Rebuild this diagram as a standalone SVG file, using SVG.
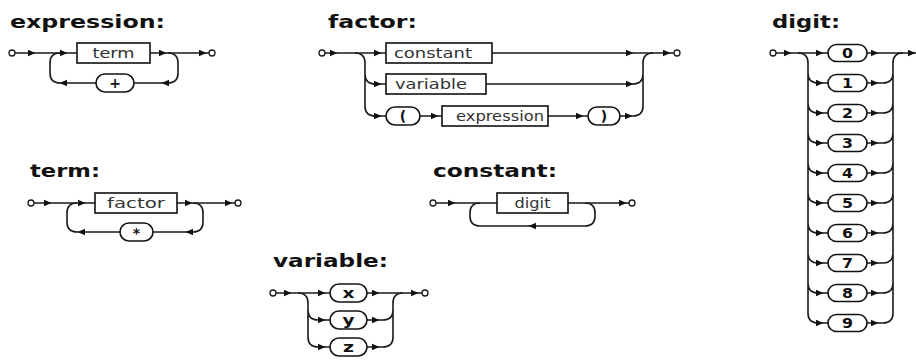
<svg xmlns="http://www.w3.org/2000/svg" xmlns:xlink="http://www.w3.org/1999/xlink" width="916" height="361" viewBox="0 0 916 361">
<style>
.ln{fill:none;stroke:#1a1a1a;stroke-width:1.6}
.bx{fill:#fff;stroke:#111;stroke-width:1.6}
.st{fill:#fff;stroke:#1a1a1a;stroke-width:1.3}
.lbl{font-family:"DejaVu Sans","Liberation Sans",sans-serif;font-size:13.5px;fill:#333;text-anchor:middle}
.tt{font-family:"DejaVu Sans","Liberation Sans",sans-serif;font-size:14px;font-weight:bold;fill:#111;text-anchor:middle}
.tl{font-family:"DejaVu Sans","Liberation Sans",sans-serif;font-size:18px;font-weight:bold;fill:#111}
</style>
<defs>
<path id="ar" d="M-4,-3.2 L3.5,0 L-4,3.2 Z" fill="#111"/>
<path id="al" d="M4,-3.2 L-3.5,0 L4,3.2 Z" fill="#111"/>
</defs>
<rect width="916" height="361" fill="#fff"/>

<g id="titles">
<text class="tl" x="10" y="28" textLength="155" lengthAdjust="spacingAndGlyphs">expression:</text>
<text class="tl" x="328" y="28" textLength="89" lengthAdjust="spacingAndGlyphs">factor:</text>
<text class="tl" x="772" y="28" textLength="68" lengthAdjust="spacingAndGlyphs">digit:</text>
<text class="tl" x="30" y="177" textLength="70" lengthAdjust="spacingAndGlyphs">term:</text>
<text class="tl" x="433" y="177" textLength="124" lengthAdjust="spacingAndGlyphs">constant:</text>
<text class="tl" x="273" y="267" textLength="115" lengthAdjust="spacingAndGlyphs">variable:</text>
</g>

<g id="connectors">
<!-- expression -->
<path class="ln" d="M15,53 H77 M150,53 H209"/>
<path class="ln" d="M168,53 Q178,53 178,63 V73 Q178,83 168,83 H134 M96,83 H60 Q50,83 50,73 V63 Q50,53 60,53"/>
<use href="#ar" x="32" y="53"/><use href="#ar" x="64" y="53"/><use href="#ar" x="163" y="53"/><use href="#ar" x="203" y="53"/>
<use href="#al" x="165" y="83"/><use href="#al" x="63" y="83"/>
<!-- term -->
<path class="ln" d="M34,203 H95 M177,203 H235"/>
<path class="ln" d="M193,203 Q203,203 203,213 V222 Q203,232 193,232 H153 M120,232 H77 Q67,232 67,222 V213 Q67,203 77,203"/>
<use href="#ar" x="48" y="203"/><use href="#ar" x="82" y="203"/><use href="#ar" x="189" y="203"/><use href="#ar" x="229" y="203"/>
<use href="#al" x="189" y="232"/><use href="#al" x="81" y="232"/>
<!-- constant -->
<path class="ln" d="M436,203 H497 M568,203 H629"/>
<path class="ln" d="M585,203 Q595,203 595,213 V216 Q595,226 585,226 H480 Q470,226 470,216 V213 Q470,203 480,203"/>
<use href="#ar" x="452" y="203"/><use href="#ar" x="623" y="203"/><use href="#al" x="532" y="226"/>
<!-- factor -->
<path class="ln" d="M325,53 H386 M492,53 H674"/>
<path class="ln" d="M355,53 Q365,53 365,63 V106 Q365,116 375,116 H386 M365,74 Q365,84 375,84 H386"/>
<path class="ln" d="M486,84 H633 Q643,84 643,74 M420,116 H442 M548,116 H588 M620,116 H633 Q643,116 643,106 V63 Q643,53 653,53"/>
<use href="#ar" x="334" y="53"/><use href="#ar" x="378" y="53"/><use href="#ar" x="630" y="53"/><use href="#ar" x="667" y="53"/>
<use href="#ar" x="378" y="84"/><use href="#ar" x="630" y="84"/>
<use href="#ar" x="378" y="116"/><use href="#ar" x="435" y="116"/><use href="#ar" x="580" y="116"/><use href="#ar" x="629" y="116"/>
<!-- variable -->
<path class="ln" d="M276,293 H330 M367,293 H422"/>
<path class="ln" d="M298,293 Q308,293 308,303 V337 Q308,347 318,347 H330 M308,310 Q308,320 318,320 H330"/>
<path class="ln" d="M367,320 H383 Q393,320 393,310 M367,347 H383 Q393,347 393,337 V303 Q393,293 403,293"/>
<use href="#ar" x="288" y="293"/><use href="#ar" x="322" y="293"/><use href="#ar" x="376" y="293"/><use href="#ar" x="415" y="293"/>
<use href="#ar" x="322" y="320"/><use href="#ar" x="376" y="320"/>
<use href="#ar" x="322" y="347"/><use href="#ar" x="376" y="347"/>
<!-- digit -->
<path class="ln" d="M776,53 H828 M867,53 H916"/>
<path class="ln" d="M798,53 Q808,53 808,63 V313 Q808,323 818,323 H828 M808,73 Q808,83 818,83 H828 M808,103 Q808,113 818,113 H828 M808,133 Q808,143 818,143 H828 M808,163 Q808,173 818,173 H828 M808,193 Q808,203 818,203 H828 M808,223 Q808,233 818,233 H828 M808,253 Q808,263 818,263 H828 M808,283 Q808,293 818,293 H828"/>
<path class="ln" d="M867,83 H883 Q893,83 893,73 M867,113 H883 Q893,113 893,103 M867,143 H883 Q893,143 893,133 M867,173 H883 Q893,173 893,163 M867,203 H883 Q893,203 893,193 M867,233 H883 Q893,233 893,223 M867,263 H883 Q893,263 893,253 M867,293 H883 Q893,293 893,283 M867,323 H883 Q893,323 893,313 V63 Q893,53 903,53"/>
<use href="#ar" x="788" y="53"/><use href="#ar" x="912" y="53"/>
<use href="#ar" x="820" y="53"/><use href="#ar" x="875" y="53"/>
<use href="#ar" x="820" y="83"/><use href="#ar" x="875" y="83"/>
<use href="#ar" x="820" y="113"/><use href="#ar" x="875" y="113"/>
<use href="#ar" x="820" y="143"/><use href="#ar" x="875" y="143"/>
<use href="#ar" x="820" y="173"/><use href="#ar" x="875" y="173"/>
<use href="#ar" x="820" y="203"/><use href="#ar" x="875" y="203"/>
<use href="#ar" x="820" y="233"/><use href="#ar" x="875" y="233"/>
<use href="#ar" x="820" y="263"/><use href="#ar" x="875" y="263"/>
<use href="#ar" x="820" y="293"/><use href="#ar" x="875" y="293"/>
<use href="#ar" x="820" y="323"/><use href="#ar" x="875" y="323"/>
<!-- start/end circles -->
<circle class="st" cx="12" cy="53" r="3"/><circle class="st" cx="212" cy="53" r="3"/>
<circle class="st" cx="31" cy="203" r="3"/><circle class="st" cx="238" cy="203" r="3"/>
<circle class="st" cx="433" cy="203" r="3"/><circle class="st" cx="632" cy="203" r="3"/>
<circle class="st" cx="322" cy="53" r="3"/><circle class="st" cx="677" cy="53" r="3"/>
<circle class="st" cx="273" cy="293" r="3"/><circle class="st" cx="425" cy="293" r="3"/>
<circle class="st" cx="773" cy="53" r="3"/>
</g>

<g id="expr-term"><rect class="bx" x="77" y="43" width="73" height="20"/><text class="lbl" x="113.5" y="57.5" textLength="42" lengthAdjust="spacingAndGlyphs">term</text></g>
<g id="expr-plus"><rect class="bx" x="96" y="74" width="38" height="18" rx="9"/><text class="tt" x="115" y="88">+</text></g>

<g id="term-factor"><rect class="bx" x="95" y="193" width="82" height="20"/><text class="lbl" x="136" y="207.5" textLength="58" lengthAdjust="spacingAndGlyphs">factor</text></g>
<g id="term-star"><rect class="bx" x="120" y="223" width="33" height="18" rx="9"/><text class="tt" x="136.5" y="237.5">*</text></g>

<g id="const-digit"><rect class="bx" x="497" y="193" width="71" height="20"/><text class="lbl" x="532.5" y="207.5" textLength="36" lengthAdjust="spacingAndGlyphs">digit</text></g>

<g id="factor-constant"><rect class="bx" x="386" y="43" width="106" height="20"/><text class="lbl" x="433" y="57.5" textLength="78" lengthAdjust="spacingAndGlyphs">constant</text></g>
<g id="factor-variable"><rect class="bx" x="386" y="74" width="100" height="20"/><text class="lbl" x="431" y="88.5" textLength="72" lengthAdjust="spacingAndGlyphs">variable</text></g>
<g id="factor-lparen"><rect class="bx" x="386" y="107" width="34" height="18" rx="9"/><text class="tt" x="403" y="121">(</text></g>
<g id="factor-expression"><rect class="bx" x="442" y="106" width="106" height="20"/><text class="lbl" x="500" y="120.5" textLength="88" lengthAdjust="spacingAndGlyphs">expression</text></g>
<g id="factor-rparen"><rect class="bx" x="588" y="107" width="32" height="18" rx="9"/><text class="tt" x="604" y="121">)</text></g>

<g id="var-x"><rect class="bx" x="330" y="284" width="37" height="18" rx="9"/><text class="tt" x="348.5" y="298" textLength="12" lengthAdjust="spacingAndGlyphs">x</text></g>
<g id="var-y"><rect class="bx" x="330" y="311" width="37" height="18" rx="9"/><text class="tt" x="348.5" y="325" textLength="12" lengthAdjust="spacingAndGlyphs">y</text></g>
<g id="var-z"><rect class="bx" x="330" y="338" width="37" height="18" rx="9"/><text class="tt" x="348.5" y="352" textLength="11" lengthAdjust="spacingAndGlyphs">z</text></g>

<g id="digit-0"><rect class="bx" x="828" y="44.5" width="39" height="17" rx="8.5"/><text class="tt" x="847.5" y="58" textLength="11" lengthAdjust="spacingAndGlyphs">0</text></g>
<g id="digit-1"><rect class="bx" x="828" y="74.5" width="39" height="17" rx="8.5"/><text class="tt" x="847.5" y="88" textLength="11" lengthAdjust="spacingAndGlyphs">1</text></g>
<g id="digit-2"><rect class="bx" x="828" y="104.5" width="39" height="17" rx="8.5"/><text class="tt" x="847.5" y="118" textLength="11" lengthAdjust="spacingAndGlyphs">2</text></g>
<g id="digit-3"><rect class="bx" x="828" y="134.5" width="39" height="17" rx="8.5"/><text class="tt" x="847.5" y="148" textLength="11" lengthAdjust="spacingAndGlyphs">3</text></g>
<g id="digit-4"><rect class="bx" x="828" y="164.5" width="39" height="17" rx="8.5"/><text class="tt" x="847.5" y="178" textLength="11" lengthAdjust="spacingAndGlyphs">4</text></g>
<g id="digit-5"><rect class="bx" x="828" y="194.5" width="39" height="17" rx="8.5"/><text class="tt" x="847.5" y="208" textLength="11" lengthAdjust="spacingAndGlyphs">5</text></g>
<g id="digit-6"><rect class="bx" x="828" y="224.5" width="39" height="17" rx="8.5"/><text class="tt" x="847.5" y="238" textLength="11" lengthAdjust="spacingAndGlyphs">6</text></g>
<g id="digit-7"><rect class="bx" x="828" y="254.5" width="39" height="17" rx="8.5"/><text class="tt" x="847.5" y="268" textLength="11" lengthAdjust="spacingAndGlyphs">7</text></g>
<g id="digit-8"><rect class="bx" x="828" y="284.5" width="39" height="17" rx="8.5"/><text class="tt" x="847.5" y="298" textLength="11" lengthAdjust="spacingAndGlyphs">8</text></g>
<g id="digit-9"><rect class="bx" x="828" y="314.5" width="39" height="17" rx="8.5"/><text class="tt" x="847.5" y="328" textLength="11" lengthAdjust="spacingAndGlyphs">9</text></g>
</svg>
